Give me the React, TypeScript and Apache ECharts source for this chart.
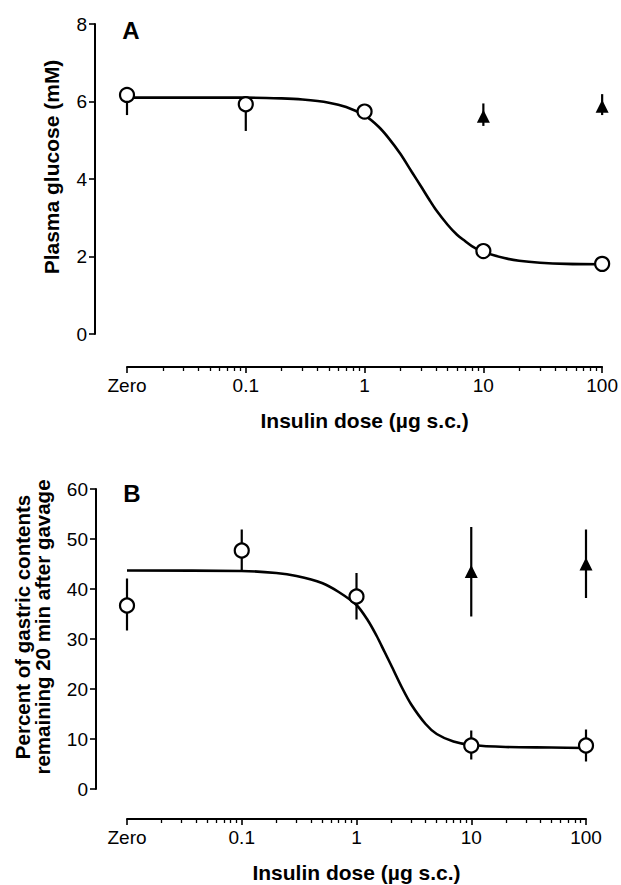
import React, { useEffect, useRef } from "react";
import * as echarts from "echarts";

// ---- axis ticks ----
const doseTicks = [0.01, 0.1, 1, 10, 100];
const doseTickLabels = ["Zero", "0.1", "1", "10", "100"];
const doseMinorTicks = [
  0.02, 0.03, 0.04, 0.05, 0.06, 0.07, 0.08, 0.09,
  0.2, 0.3, 0.4, 0.5, 0.6, 0.7, 0.8, 0.9,
  2, 3, 4, 5, 6, 7, 8, 9,
  20, 30, 40, 50, 60, 70, 80, 90,
];

// ---- Panel A: plasma glucose (mM) ----
const glucoseDose = [0.01, 0.1, 1, 10, 100];
const glucoseMean = [6.17, 5.93, 5.74, 2.14, 1.81];
const glucoseLow = [5.65, 5.24, 5.74, 2.14, 1.81];
const glucoseHigh = [6.17, 5.93, 5.74, 2.14, 1.81];
const glucoseTriDose = [10, 100];
const glucoseTriMean = [5.62, 5.88];
const glucoseTriLow = [5.37, 5.65];
const glucoseTriHigh = [5.95, 6.19];
const glucoseFitDose = [0.01, 0.1, 0.2, 0.3, 0.5, 0.7, 1, 1.3, 1.6, 2, 2.5, 3, 3.5, 4, 5, 6, 7, 8, 10, 15, 20, 30, 50, 100];
const glucoseFitValue = [6.1, 6.1, 6.08, 6.05, 5.97, 5.86, 5.64, 5.36, 5.05, 4.65, 4.18, 3.8, 3.47, 3.2, 2.82, 2.56, 2.4, 2.27, 2.12, 1.96, 1.89, 1.84, 1.81, 1.8];

// ---- Panel B: gastric contents remaining (%) ----
const gastricDose = [0.01, 0.1, 1, 10, 100];
const gastricMean = [36.7, 47.7, 38.5, 8.7, 8.7];
const gastricLow = [31.7, 43.5, 33.9, 5.9, 5.5];
const gastricHigh = [42.1, 51.9, 43.2, 11.7, 11.9];
const gastricTriDose = [10, 100];
const gastricTriMean = [43.5, 45.0];
const gastricTriLow = [34.5, 38.2];
const gastricTriHigh = [52.4, 51.9];
const gastricFitDose = [0.01, 0.1, 0.2, 0.3, 0.5, 0.7, 1, 1.25, 1.5, 1.75, 2, 2.5, 3, 4, 5, 7, 10, 20, 50, 100];
const gastricFitValue = [43.7, 43.6, 43.2, 42.6, 41.2, 39.4, 36.8, 33.8, 30.6, 27.5, 24.8, 20.2, 16.9, 13.0, 11.0, 9.5, 8.8, 8.4, 8.3, 8.2];

const FONT = "'Liberation Sans', Arial, Helvetica, sans-serif";
const TICK_FONT = 19;
const TITLE_FONT = 21;

function zip(a: number[], b: number[]) {
  return a.map((v, i) => [v, b[i]]);
}

function doseLabel(v: number) {
  for (let i = 0; i < doseTicks.length; i++) {
    if (Math.abs(Math.log10(v) - Math.log10(doseTicks[i])) < 1e-6) return doseTickLabels[i];
  }
  return "";
}

function xAxes(gridIndex: number, offset: number, name: string) {
  const base = {
    type: "log",
    logBase: 10,
    min: 0.01,
    max: 100,
    gridIndex,
    position: "bottom",
    offset,
    splitLine: { show: false },
    minorTick: { show: false },
    minorSplitLine: { show: false },
  };
  return [
    {
      ...base,
      name,
      nameLocation: "middle",
      nameGap: 43,
      nameTextStyle: { color: "#000", fontSize: TITLE_FONT, fontWeight: "bold", fontFamily: FONT },
      axisLine: { show: true, onZero: false, lineStyle: { color: "#000", width: 2 } },
      axisTick: { show: true, length: 6, customValues: doseTicks, lineStyle: { color: "#000", width: 1.6 } },
      axisLabel: {
        show: true,
        customValues: doseTicks,
        formatter: (v: number) => doseLabel(v),
        color: "#000",
        fontSize: TICK_FONT,
        fontFamily: FONT,
        margin: 9,
      },
    },
    {
      ...base,
      axisLine: { show: false, onZero: false },
      axisTick: { show: true, length: 4, customValues: doseMinorTicks, lineStyle: { color: "#000", width: 1.3 } },
      axisLabel: { show: false },
    },
  ];
}

function yAxis(gridIndex: number, offset: number, max: number, interval: number) {
  return {
    type: "value",
    gridIndex,
    min: 0,
    max,
    interval,
    position: "left",
    offset,
    splitLine: { show: false },
    axisLine: { show: true, onZero: false, lineStyle: { color: "#000", width: 2 } },
    axisTick: { show: true, length: 6, lineStyle: { color: "#000", width: 1.6 } },
    axisLabel: { color: "#000", fontSize: TICK_FONT, fontFamily: FONT, margin: 8 },
  };
}

function errorBars(xAxisIndex: number, yAxisIndex: number, dose: number[], low: number[], high: number[]) {
  return {
    type: "custom",
    xAxisIndex,
    yAxisIndex,
    clip: false,
    z: 3,
    silent: true,
    encode: { x: 0, y: [1, 2] },
    data: dose.map((d, i) => [d, low[i], high[i]]),
    renderItem: (_params: any, api: any) => {
      const p1 = api.coord([api.value(0), api.value(1)]);
      const p2 = api.coord([api.value(0), api.value(2)]);
      return {
        type: "line",
        shape: { x1: p1[0], y1: p1[1], x2: p2[0], y2: p2[1] },
        style: { stroke: "#000", lineWidth: 2.2 },
      };
    },
  };
}

function fitLine(xAxisIndex: number, yAxisIndex: number, dose: number[], val: number[]) {
  return {
    type: "line",
    xAxisIndex,
    yAxisIndex,
    data: zip(dose, val),
    smooth: 0.3,
    showSymbol: false,
    symbol: "none",
    z: 2,
    lineStyle: { color: "#000", width: 2.6 },
  };
}

function circles(xAxisIndex: number, yAxisIndex: number, dose: number[], val: number[]) {
  return {
    type: "scatter",
    xAxisIndex,
    yAxisIndex,
    data: zip(dose, val),
    symbol: "circle",
    symbolSize: 14,
    z: 5,
    itemStyle: { color: "#fff", borderColor: "#000", borderWidth: 2.2, opacity: 1 },
  };
}

function triangles(xAxisIndex: number, yAxisIndex: number, dose: number[], val: number[]) {
  return {
    type: "scatter",
    xAxisIndex,
    yAxisIndex,
    data: zip(dose, val),
    symbol: "triangle",
    symbolSize: [13, 13],
    z: 5,
    itemStyle: { color: "#000", opacity: 1 },
  };
}

export default function App() {
  const ref = useRef<HTMLDivElement>(null);

  useEffect(() => {
    if (!ref.current) return;
    const chart = echarts.init(ref.current, undefined, { renderer: "svg" });
    const titleStyle = { fill: "#000", fontWeight: "bold", fontFamily: FONT };
    chart.setOption({
      animation: false,
      backgroundColor: "#fff",
      grid: [
        { left: 127, width: 476, top: 24, height: 310 },
        { left: 127, width: 459, top: 489, height: 300 },
      ],
      xAxis: [...xAxes(0, 33, "Insulin dose (µg s.c.)"), ...xAxes(1, 30, "Insulin dose (µg s.c.)")],
      yAxis: [yAxis(0, 32, 8, 2), yAxis(1, 31, 60, 10)],
      graphic: [
        { type: "text", x: 131, y: 30, style: { text: "A", fill: "#000", fontSize: 24, fontWeight: "bold", fontFamily: FONT, align: "center", verticalAlign: "middle" } },
        { type: "text", x: 132, y: 493, style: { text: "B", fill: "#000", fontSize: 24, fontWeight: "bold", fontFamily: FONT, align: "center", verticalAlign: "middle" } },
        { type: "text", x: 51, y: 167, rotation: Math.PI / 2, style: { ...titleStyle, fontSize: TITLE_FONT, text: "Plasma glucose (mM)", align: "center", verticalAlign: "middle" } },
        {
          type: "text",
          x: 32,
          y: 627,
          rotation: Math.PI / 2,
          style: { ...titleStyle, fontSize: 20.5, text: "Percent of gastric contents\nremaining 20 min after gavage", lineHeight: 20, align: "center", verticalAlign: "middle" },
        },
      ],
      series: [
        fitLine(0, 0, glucoseFitDose, glucoseFitValue),
        errorBars(0, 0, glucoseDose, glucoseLow, glucoseHigh),
        errorBars(0, 0, glucoseTriDose, glucoseTriLow, glucoseTriHigh),
        circles(0, 0, glucoseDose, glucoseMean),
        triangles(0, 0, glucoseTriDose, glucoseTriMean),
        fitLine(2, 1, gastricFitDose, gastricFitValue),
        errorBars(2, 1, gastricDose, gastricLow, gastricHigh),
        errorBars(2, 1, gastricTriDose, gastricTriLow, gastricTriHigh),
        circles(2, 1, gastricDose, gastricMean),
        triangles(2, 1, gastricTriDose, gastricTriMean),
      ],
    });
    return () => chart.dispose();
  }, []);

  return (
    <div
      ref={ref}
      style={{ position: "absolute", left: 0, top: 0, width: 621, height: 885, background: "#fff" }}
    />
  );
}
